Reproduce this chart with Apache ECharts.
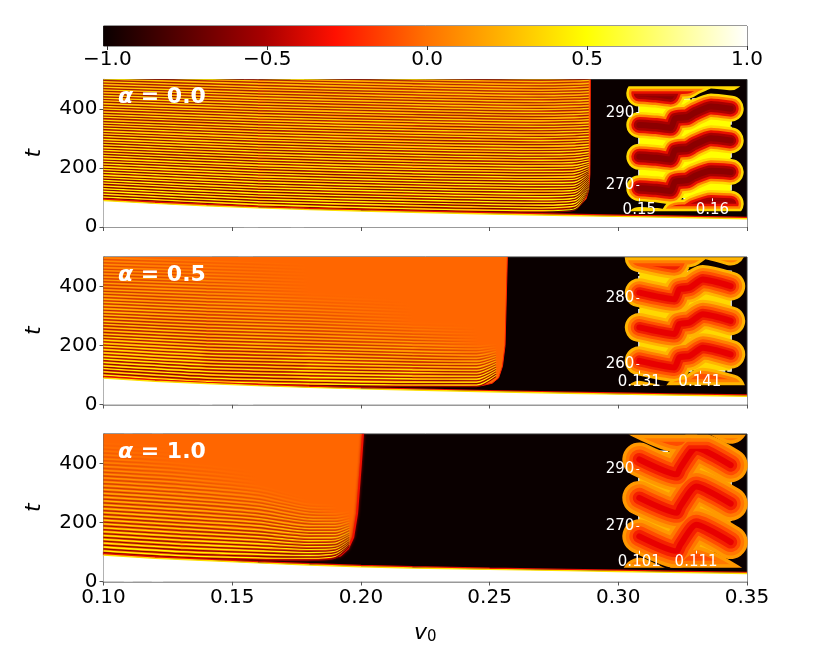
<!DOCTYPE html>
<html>
<head>
<meta charset="utf-8">
<style>html,body{margin:0;padding:0;background:#fff}#chart{width:830px;height:664px}</style>
<script src="https://cdn.jsdelivr.net/npm/echarts@6/dist/echarts.min.js"></script>
</head>
<body>
<div id="chart"></div>
<script>
const xTicks = [0.10, 0.15, 0.20, 0.25, 0.30, 0.35];
const yTicks = [0, 200, 400];
const cbTicks = [-1, -0.5, 0, 0.5, 1];
const cbStops = [[0, '#0a0000'], [0.25, '#a80000'], [0.36, '#ff1000'], [0.5, '#ff7000'], [0.62, '#ffb400'], [0.75, '#ffff00'], [1, '#ffffff']];

const frontV = [0.10, 0.12, 0.14, 0.16, 0.18, 0.20, 0.22, 0.25, 0.28, 0.30, 0.32, 0.35];
const front1 = [90, 80, 72, 65, 59, 54, 50, 44, 39, 36, 33, 28];
const front2 = [90, 79, 71, 64, 58, 53, 49, 43, 38, 35, 32, 28];
const front3 = [90, 79, 71, 63, 56, 50, 46, 41, 37, 34, 31, 27];

const region1 = [[0.10, 94], [0.13, 79], [0.16, 70], [0.19, 62], [0.22, 57], [0.25, 53], [0.27, 52], [0.28, 60], [0.285, 72], [0.2875, 95], [0.2885, 125], [0.289, 180], [0.2892, 500]];
const region2 = [[0.10, 94], [0.12, 82], [0.14, 74], [0.16, 70], [0.18, 68], [0.20, 66], [0.22, 64], [0.24, 62], [0.247, 64], [0.251, 72], [0.2535, 90], [0.255, 130], [0.256, 200], [0.2569, 500]];
const region3 = [[0.10, 95], [0.115, 86], [0.13, 82], [0.15, 77], [0.17, 75], [0.18, 75], [0.187, 78], [0.192, 88], [0.195, 112], [0.197, 150], [0.1985, 230], [0.2, 400], [0.2008, 500]];

const stripeV1 = [0.10, 0.16, 0.22, 0.27, 0.283, 0.2885];
const stripes1 = [
  [102, 76, 62, 55, 62, 128], [111, 86, 72, 65, 71, 132], [121, 95, 82, 74, 80, 136], [130, 105, 91, 84, 89, 141],
  [139, 114, 101, 93, 98, 146], [149, 124, 110, 103, 107, 152], [158, 133, 120, 112, 116, 158], [167, 143, 129, 122, 125, 164],
  [176, 152, 138, 131, 134, 170], [186, 162, 148, 141, 143, 176], [195, 171, 157, 150, 152, 182], [204, 181, 166, 160, 162, 188],
  [214, 190, 176, 169, 171, 193], [223, 200, 185, 179, 181, 199], [232, 209, 195, 188, 190, 206], [242, 219, 204, 198, 200, 213],
  [251, 228, 214, 207, 209, 220], [260, 238, 223, 217, 219, 228], [269, 247, 233, 226, 228, 236], [279, 257, 243, 236, 238, 245],
  [288, 266, 252, 245, 247, 253], [297, 276, 262, 255, 257, 262], [307, 285, 271, 264, 266, 271], [316, 295, 281, 274, 276, 280],
  [325, 304, 290, 284, 286, 289], [335, 314, 300, 293, 295, 298], [344, 323, 310, 303, 305, 307], [353, 333, 319, 312, 314, 317],
  [362, 342, 329, 322, 324, 326], [372, 352, 338, 331, 333, 335], [381, 361, 348, 341, 343, 345], [390, 371, 358, 350, 352, 354],
  [400, 380, 367, 360, 362, 364], [409, 390, 377, 369, 371, 373], [418, 399, 386, 379, 381, 383], [428, 409, 396, 388, 390, 392],
  [437, 418, 405, 398, 400, 402], [446, 428, 415, 407, 409, 411], [455, 437, 424, 417, 419, 421], [465, 447, 434, 426, 428, 430],
  [474, 456, 443, 436, 438, 440], [483, 466, 453, 445, 447, 449], [493, 475, 462, 455, 457, 459], [502, 485, 472, 464, 466, 468],
  [511, 495, 481, 474, 476, 478], [520, 504, 491, 483, 485, 487], [530, 514, 500, 493, 495, 497], [540, 523, 510, 502, 504, 506]
];
const fade1 = [1500, 1300, 1100, 1000, 1000, 1000];

const stripeV2 = [0.10, 0.14, 0.18, 0.22, 0.245, 0.2525];
const stripes2 = [
  [100, 78, 70, 66, 66, 100], [111, 90, 81, 76, 76, 108], [122, 101, 92, 87, 86, 116], [132, 112, 103, 97, 96, 124],
  [143, 123, 114, 108, 106, 132], [154, 134, 125, 118, 116, 140], [164, 145, 136, 129, 126, 148], [175, 156, 147, 139, 137, 156],
  [186, 167, 158, 150, 147, 164], [197, 178, 169, 160, 157, 172], [207, 189, 180, 171, 167, 180], [218, 200, 190, 181, 178, 188],
  [229, 211, 201, 192, 188, 196], [239, 222, 212, 202, 198, 204], [250, 233, 223, 213, 209, 213], [261, 244, 234, 223, 219, 222],
  [272, 255, 245, 234, 229, 231], [282, 266, 256, 244, 240, 241], [293, 277, 267, 255, 250, 251], [304, 288, 278, 265, 260, 261],
  [314, 299, 288, 276, 271, 272], [325, 310, 299, 286, 281, 282], [336, 321, 310, 297, 291, 292], [347, 332, 321, 307, 302, 303],
  [357, 343, 332, 318, 312, 313], [368, 354, 343, 328, 322, 323], [379, 365, 354, 339, 333, 334], [389, 376, 365, 349, 343, 344],
  [400, 387, 376, 360, 353, 354], [411, 398, 387, 370, 364, 365], [422, 409, 397, 381, 374, 375], [432, 420, 408, 391, 384, 385],
  [443, 431, 419, 402, 395, 396], [454, 442, 430, 412, 405, 406], [464, 453, 441, 423, 415, 416], [475, 464, 452, 433, 426, 427],
  [486, 475, 463, 444, 436, 437], [497, 486, 474, 454, 446, 447]
];
const fade2 = [620, 520, 380, 280, 210, 190];

const stripeV3 = [0.10, 0.13, 0.16, 0.18, 0.19, 0.1955];
const stripes3 = [
  [104, 88, 80, 79, 86, 125], [117, 101, 92, 89, 95, 130], [130, 114, 104, 99, 104, 136], [143, 127, 116, 109, 113, 142],
  [156, 140, 128, 119, 122, 149], [169, 153, 140, 129, 131, 156], [182, 166, 152, 139, 141, 163], [195, 179, 164, 149, 150, 170],
  [208, 192, 176, 160, 160, 178], [221, 205, 189, 170, 170, 186], [234, 218, 201, 180, 180, 194], [247, 231, 213, 190, 190, 202],
  [260, 244, 225, 201, 200, 210], [273, 257, 237, 211, 210, 219], [286, 270, 250, 221, 220, 228], [299, 283, 262, 232, 230, 237],
  [312, 296, 274, 242, 240, 246], [325, 309, 286, 252, 250, 255], [338, 322, 299, 262, 260, 264], [351, 335, 311, 273, 270, 274],
  [364, 348, 323, 283, 280, 284], [377, 361, 335, 293, 290, 294], [390, 374, 347, 303, 300, 304], [403, 387, 359, 314, 310, 314],
  [416, 400, 371, 324, 320, 324], [429, 413, 383, 334, 330, 334], [442, 426, 395, 345, 340, 344], [455, 439, 407, 355, 350, 354],
  [468, 452, 419, 365, 360, 364]
];
const fade3 = [480, 410, 330, 270, 240, 215];

const bands1 = [[0.1546, 0.1601], [0.1728, 0.1779]];
const bands2 = [[0.1375, 0.1422], [0.1524, 0.1581]];
const bands3 = [[0.108, 0.1113], [0.1188, 0.1231]];
const box1 = [0.150, 0.1626, 266, 293];
const box2 = [0.1312, 0.1462, 257, 291];
const box3 = [0.101, 0.117, 261, 298];

const insetV1 = [0.15, 0.1523, 0.1543, 0.1549, 0.1566, 0.1575, 0.1598, 0.1625];
const inset1 = [
  [295.3, 295, 294.5, 297.1, 297.5, 298.6, 300.3, 299.8],
  [286.6, 286.3, 285.8, 288.4, 288.8, 289.9, 291.7, 291.1],
  [277.8, 277.5, 277, 279.6, 280, 281.1, 282.9, 282.3],
  [269.1, 268.8, 268.3, 270.9, 271.3, 272.4, 273.9, 273.6],
  [260.3, 260, 259.5, 262.1, 262.5, 263.6, 265, 264.8]
];
const insetV2 = [0.131, 0.1368, 0.1376, 0.1393, 0.1415, 0.1461];
const inset2 = [
  [292.5, 290.5, 293.5, 294, 296.5, 294.5],
  [281.8, 279.8, 282.8, 283.3, 285.8, 283.8],
  [271.2, 269.2, 272.2, 272.7, 275.2, 273.2],
  [261, 259, 262, 262.5, 265, 263],
  [250.5, 248.5, 251.5, 252, 254.5, 252.5]
];
const insetV3 = [0.101, 0.1076, 0.1082, 0.111, 0.1171];
const inset3 = [
  [306.7, 301.5, 303.7, 310.7, 304.7],
  [293.3, 288.1, 290.3, 297.3, 291.3],
  [279.9, 274.7, 276.9, 283.9, 277.9],
  [266.5, 261.3, 263.5, 270.5, 264.5],
  [253.1, 247.9, 250.1, 257.1, 251.1]
];

const panels = [
  { label: '0.0', top: 79.5, front: front1, region: region1, stripeV: stripeV1, stripes: stripes1, fade: fade1, bands: bands1, box: box1,
    crest: '255,255,0', trough: '#780000', lw: 1.15, off: 1.4, edge: '#ff2000', edgeW: 0.8, edgeBlur: 0,
    inset: { v: insetV1, rows: inset1, top: 99.3, xr: [0.15, 0.1625], yr: [266.3, 293.7], xt: [0.15, 0.16], yt: [270, 290], dp: 2,
      colors: ['#ffd800', '#ff8000', '#e81000', '#a80000', '#8c0000'], widths: [26, 21, 16, 11, 6], bg: '#ffff00' } },
  { label: '0.5', top: 257, front: front2, region: region2, stripeV: stripeV2, stripes: stripes2, fade: fade2, bands: bands2, box: box2,
    crest: '255,255,0', trough: '#8a0000', lw: 1.15, off: 1.6, edge: '#ff2000', edgeW: 1, edgeBlur: 0,
    inset: { v: insetV2, rows: inset2, top: 271.7, xr: [0.131, 0.1461], yr: [258, 288.2], xt: [0.131, 0.141], yt: [260, 280], dp: 3,
      colors: ['#ffb400', '#ff8000', '#ff5000', '#f02000', '#e80000'], widths: [29, 23, 17, 11, 6], bg: '#ffd800' } },
  { label: '1.0', top: 434, front: front3, region: region3, stripeV: stripeV3, stripes: stripes3, fade: fade3, bands: bands3, box: box3,
    crest: '255,255,0', trough: '#8a0000', lw: 1.3, off: 1.9, edge: '#f01000', edgeW: 2, edgeBlur: 3,
    inset: { v: insetV3, rows: inset3, top: 451.7, xr: [0.101, 0.1171], yr: [261.5, 296], xt: [0.101, 0.111], yt: [270, 290], dp: 3,
      colors: ['#ff9800', '#ff7800', '#ff4c00', '#f42000', '#e80000'], widths: [34, 27, 20, 13, 6], bg: '#ffb400' } }
];

const font = 'DejaVu Sans';
const left = 103.5, width = 643.5, height = 147.5;
const grids = [], xAxes = [], yAxes = [], series = [], titles = [];

// colourbar
grids.push({ left: left, top: 26, width: width, height: 20, show: true, borderColor: '#333', borderWidth: 1 });
xAxes.push({
  type: 'value', gridIndex: 0, min: -1.012, max: 1, axisLine: { show: false }, splitLine: { show: false },
  axisTick: { show: true, length: 4, lineStyle: { color: '#333' }, customValues: cbTicks },
  axisLabel: { fontFamily: font, fontSize: 20, color: '#000', margin: 4, customValues: cbTicks,
    formatter: v => v.toFixed(1).replace('-', '\u2212') }
});
yAxes.push({ type: 'value', gridIndex: 0, min: 0, max: 1, show: false });
series.push({
  type: 'line', xAxisIndex: 0, yAxisIndex: 0, symbol: 'none', silent: true, data: [[-1.012, 1], [1, 1]],
  lineStyle: { width: 0 },
  areaStyle: { opacity: 1, color: { type: 'linear', x: 0, y: 0, x2: 1, y2: 0, colorStops: cbStops.map(s => ({ offset: s[0], color: s[1] })) } }
});

panels.forEach((p, i) => {
  const g = grids.length, ax = { xAxisIndex: g, yAxisIndex: g };
  grids.push({ left: left, top: p.top, width: width, height: height, show: true, backgroundColor: '#0a0000', borderColor: '#333', borderWidth: 1 });
  xAxes.push({
    type: 'value', gridIndex: g, min: 0.10, max: 0.35, splitLine: { show: false },
    axisLine: { lineStyle: { color: '#999', width: 2 } },
    axisTick: { length: 4, lineStyle: { color: '#555' }, customValues: xTicks },
    axisLabel: { show: i === 2, fontFamily: font, fontSize: 20, color: '#000', margin: 6, customValues: xTicks, formatter: v => v.toFixed(2) },
    name: i === 2 ? '{v|v}{s|0}' : '', nameLocation: 'middle', nameGap: 40,
    nameTextStyle: { rich: { v: { fontFamily: font, fontStyle: 'italic', fontSize: 22, color: '#000' }, s: { fontFamily: font, fontSize: 15, color: '#000', padding: [8, 0, 0, 0] } } }
  });
  yAxes.push({
    type: 'value', gridIndex: g, min: 0, max: 500, splitLine: { show: false },
    axisLine: { lineStyle: { color: '#777', width: 1.5 } },
    axisTick: { length: 4, lineStyle: { color: '#555' }, customValues: yTicks },
    axisLabel: { fontFamily: font, fontSize: 20, color: '#000', margin: 6, customValues: yTicks },
    name: 't', nameLocation: 'middle', nameGap: 58,
    nameTextStyle: { fontFamily: font, fontStyle: 'italic', fontSize: 22, color: '#000' }
  });

  // orange region above the first front
  series.push({ type: 'line', ...ax, symbol: 'none', silent: true, data: p.region, z: 2,
    lineStyle: { color: p.edge, width: p.edgeW, shadowBlur: p.edgeBlur, shadowColor: '#c00000' },
    areaStyle: { origin: 'end', color: '#ff6600', opacity: 1 } });

  // wave crests, the troughs follow as an offset shadow
  const t0 = p.stripes[0], v0 = p.stripeV[0], vN = p.stripeV[p.stripeV.length - 1];
  p.stripes.forEach(row => {
    const stops = row.map((t, j) => {
      const a = Math.max(0, Math.min(1, 1 - (t - t0[j]) / (p.fade[j] - t0[j])));
      return { offset: (p.stripeV[j] - v0) / (vN - v0), color: 'rgba(' + p.crest + ',' + a.toFixed(3) + ')' };
    });
    series.push({ type: 'line', ...ax, symbol: 'none', silent: true, z: 3, smooth: 0.25,
      data: row.map((t, j) => [p.stripeV[j], t]),
      lineStyle: { width: p.lw, color: { type: 'linear', x: 0, y: 0, x2: 1, y2: 0, colorStops: stops },
        shadowColor: p.trough, shadowOffsetY: p.off, shadowBlur: 0.6 } });
  });

  // front line with white below
  series.push({ type: 'line', ...ax, symbol: 'none', silent: true, z: 4,
    data: frontV.map((v, j) => [v, p.front[j]]),
    lineStyle: { color: '#ffe000', width: 1.4, shadowColor: '#e81000', shadowOffsetY: -1.2, shadowBlur: 0 },
    areaStyle: { origin: 'start', color: '#ffffff', opacity: 1 } });

  // highlighted columns and the dashed zoom box
  series.push({ type: 'line', ...ax, symbol: 'none', silent: true, z: 5, data: [],
    markArea: { silent: true, data: p.bands.map(b => [
      { xAxis: b[0], yAxis: 0, itemStyle: { color: 'rgba(255,255,255,0.36)', borderColor: 'rgba(255,255,255,0.25)', borderWidth: 1 } },
      { xAxis: b[1], yAxis: 500 }]) } });
  series.push({ type: 'line', ...ax, symbol: 'none', silent: true, z: 6, data: [],
    markArea: { silent: true, data: [[
      { xAxis: p.box[0], yAxis: p.box[2], itemStyle: { color: 'rgba(0,0,0,0)', borderColor: '#fff', borderWidth: 1.2, borderType: [4, 2] } },
      { xAxis: p.box[1], yAxis: p.box[3] }]] } });

  titles.push({ text: '{a|\u03b1} = ' + p.label, left: 113, top: p.top + 2,
    textStyle: { fontFamily: font, fontSize: 22, color: '#fff', rich: { a: { fontFamily: font, fontStyle: 'italic', fontSize: 22, color: '#fff' } } } });

  // inset
  const n = p.inset, h = grids.length, bx = { xAxisIndex: h, yAxisIndex: h };
  grids.push({ left: 639.3, top: n.top, width: 91.4, height: 99 });
  xAxes.push({
    type: 'value', gridIndex: h, min: n.xr[0], max: n.xr[1], z: 12, splitLine: { show: false }, axisLine: { show: false },
    axisTick: { length: 3, lineStyle: { color: '#fff' }, customValues: n.xt },
    axisLabel: { fontFamily: font, fontSize: 15, color: '#fff', margin: 4, customValues: n.xt, formatter: v => v.toFixed(n.dp) }
  });
  yAxes.push({
    type: 'value', gridIndex: h, min: n.yr[0], max: n.yr[1], z: 12, splitLine: { show: false }, axisLine: { show: false },
    axisTick: { length: 3, lineStyle: { color: '#fff' }, customValues: n.yt },
    axisLabel: { fontFamily: font, fontSize: 15, color: '#fff', margin: 5, customValues: n.yt }
  });
  series.push({ type: 'line', ...bx, symbol: 'none', silent: true, z: 8,
    data: [[n.xr[0], n.yr[1]], [n.xr[1], n.yr[1]]], lineStyle: { width: 0 },
    areaStyle: { origin: 'start', color: n.bg, opacity: 1 } });
  n.widths.forEach((w, k) => {
    n.rows.forEach(row => {
      series.push({ type: 'line', ...bx, symbol: 'none', silent: true, z: 9 + k * 0.1, smooth: 0.2,
        data: row.map((t, j) => [n.v[j], t]),
        lineStyle: { color: n.colors[k], width: w, cap: 'round', join: 'round' } });
    });
  });
  series.push({ type: 'line', ...bx, symbol: 'none', silent: true, z: 11, data: [],
    markArea: { silent: true, data: [[
      { xAxis: n.xr[0], yAxis: n.yr[0], itemStyle: { color: 'rgba(0,0,0,0)', borderColor: '#fff', borderWidth: 2.2, borderType: [9, 2] } },
      { xAxis: n.xr[1], yAxis: n.yr[1] }]] } });
});

const chart = echarts.init(document.getElementById('chart'));
chart.setOption({
  animation: false,
  backgroundColor: '#fff',
  title: titles,
  grid: grids,
  xAxis: xAxes,
  yAxis: yAxes,
  series: series
});
</script>
</body>
</html>
